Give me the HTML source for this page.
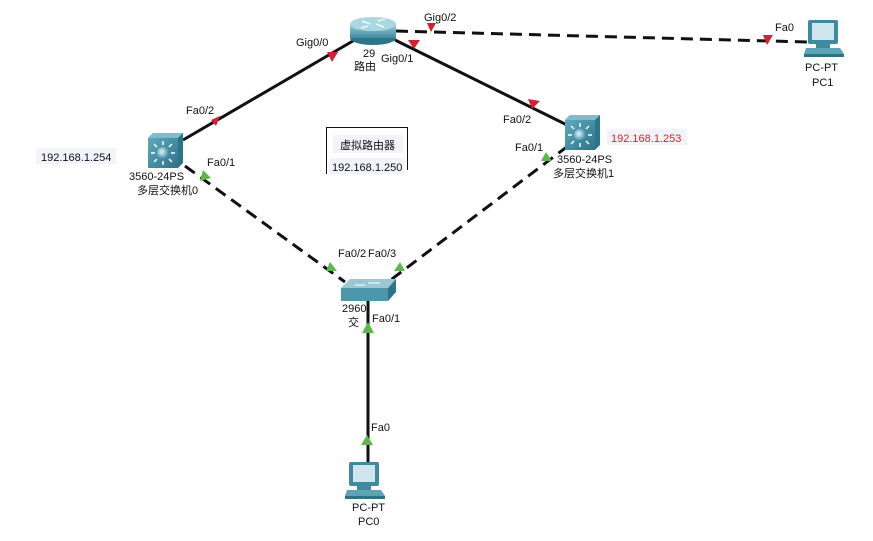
<!DOCTYPE html>
<html><head><meta charset="utf-8"><style>
html,body{margin:0;padding:0;background:#fff;}
svg text{font-family:"Liberation Sans","Noto Sans CJK SC",sans-serif;font-size:11px;fill:#111;}
</style></head><body>
<svg width="873" height="536" viewBox="0 0 873 536" xmlns="http://www.w3.org/2000/svg">
<defs>
<linearGradient id="rt" x1="0" y1="0" x2="0" y2="1"><stop offset="0" stop-color="#9fd0dc"/><stop offset="1" stop-color="#3e8aa0"/></linearGradient>
<linearGradient id="sw" x1="0" y1="0" x2="1" y2="1"><stop offset="0" stop-color="#5fa9bd"/><stop offset="1" stop-color="#2c7589"/></linearGradient>
<radialGradient id="ball" cx="0.4" cy="0.4" r="0.6"><stop offset="0" stop-color="#e8f6fa"/><stop offset="1" stop-color="#3a8ba2"/></radialGradient>
<g id="pc">
<rect x="2" y="0" width="30" height="24" rx="2" fill="#3f8aa0"/>
<rect x="6" y="3" width="22" height="17" fill="#cfe6ee"/>
<rect x="10" y="24" width="14" height="4" fill="#3f8aa0"/>
<polygon points="0,28 34,28 38,34 -2,34" fill="#5da2b5"/>
<rect x="-2" y="34" width="40" height="3" fill="#2f7185"/>
</g>
<g id="ml">
<polygon points="0,5 5,0 35,0 35,30 30,35 0,35" fill="#2c7589"/>
<rect x="0" y="5" width="30" height="30" fill="url(#sw)"/>
<polygon points="0,5 5,0 35,0 30,5" fill="#7fbccc"/>
<circle cx="15" cy="20" r="6" fill="url(#ball)"/>
<g stroke="#fff" stroke-width="1.5">
<line x1="15" y1="12" x2="15" y2="8"/><line x1="15" y1="28" x2="15" y2="32"/>
<line x1="7" y1="20" x2="3" y2="20"/><line x1="23" y1="20" x2="27" y2="20"/>
<line x1="9" y1="14" x2="6" y2="11"/><line x1="21" y1="14" x2="24" y2="11"/>
<line x1="9" y1="26" x2="6" y2="29"/><line x1="21" y1="26" x2="24" y2="29"/>
</g>
</g>
</defs>

<!-- links -->
<g stroke="#111" stroke-width="3" fill="none">
<line x1="358" y1="38" x2="183" y2="140"/>
<line x1="395" y1="40" x2="567" y2="125"/>
<line x1="368" y1="300" x2="368" y2="462"/>
</g>
<g stroke="#111" stroke-width="3" fill="none" stroke-dasharray="12,7">
<line x1="396" y1="31" x2="807" y2="42"/>
<line x1="185" y1="166" x2="345" y2="282"/>
<line x1="568" y1="146" x2="388" y2="282"/>
</g>

<!-- red markers -->
<g fill="#d42030">
<polygon points="327,52 338,52 332,62"/>
<polygon points="211,120 220,116 216,126"/>
<polygon points="427,23 436,23 431,32"/>
<polygon points="408,40 420,40 414,49"/>
<polygon points="528,99 540,101 532,109"/>
<polygon points="763,35 773,35 767,45"/>
</g>
<!-- green markers -->
<g fill="#5bb84a">
<polygon points="203,170 211,178 200,181"/>
<polygon points="330,262 337,271 326,271"/>
<polygon points="400,262 405,271 394,271"/>
<polygon points="546,152 552,161 541,161"/>
<polygon points="368,322 374,333 362,333"/>
<polygon points="367,435 373,445 361,445"/>
</g>

<!-- router -->
<ellipse cx="373" cy="38" rx="23" ry="7" fill="#2c7589"/>
<rect x="350" y="24" width="46" height="14" fill="url(#rt)"/>
<ellipse cx="373" cy="24" rx="23" ry="7" fill="#a9d8e3"/>
<g stroke="#fff" stroke-width="1.3"><line x1="362" y1="21" x2="370" y2="24"/><line x1="376" y1="24" x2="384" y2="27"/><line x1="378" y1="21" x2="385" y2="19"/><line x1="361" y1="28" x2="368" y2="26"/></g>

<!-- multilayer switches -->
<use href="#ml" x="148" y="133"/>
<use href="#ml" x="565" y="115"/>

<!-- 2960 switch -->
<polygon points="341,288 350,279 396,279 388,288" fill="#9cc8d4"/>
<rect x="341" y="288" width="47" height="13" fill="#4d97ab"/>
<polygon points="388,288 396,279 396,292 388,301" fill="#2c7589"/>
<g stroke="#fff" stroke-width="1"><line x1="355" y1="285" x2="365" y2="285"/><line x1="368" y1="283" x2="380" y2="283"/></g>

<!-- PCs -->
<use href="#pc" x="806" y="20"/>
<use href="#pc" x="347" y="462"/>

<!-- virtual router box -->
<path d="M326.5,174 V127.5 H407.5 V170" stroke="#111" fill="none"/>
<rect x="333" y="135" width="70" height="18" fill="#f3f4fb"/>
<text x="340" y="149">虚拟路由器</text>
<rect x="330" y="158" width="75" height="16" fill="#f3f4fb"/>
<text x="332" y="171">192.168.1.250</text>

<!-- IP labels -->
<rect x="36" y="148" width="80" height="16" fill="#f3f4fb"/>
<text x="41" y="161">192.168.1.254</text>
<rect x="607" y="129" width="80" height="16" fill="#f3f4fb"/>
<text x="611" y="142" style="fill:#e0202a">192.168.1.253</text>

<!-- port labels -->
<text x="296" y="46">Gig0/0</text>
<text x="424" y="21">Gig0/2</text>
<text x="381" y="62">Gig0/1</text>
<text x="186" y="114">Fa0/2</text>
<text x="207" y="166">Fa0/1</text>
<text x="503" y="123">Fa0/2</text>
<text x="515" y="151">Fa0/1</text>
<text x="338" y="257">Fa0/2</text>
<text x="368" y="257">Fa0/3</text>
<text x="372" y="322">Fa0/1</text>
<text x="371" y="431">Fa0</text>
<text x="775" y="31">Fa0</text>

<!-- device labels -->
<text x="363" y="57">29</text>
<text x="354" y="70">路由</text>
<text x="129" y="180">3560-24PS</text>
<text x="137" y="194">多层交换机0</text>
<text x="557" y="163">3560-24PS</text>
<text x="553" y="177">多层交换机1</text>
<text x="342" y="312">2960</text>
<text x="348" y="326">交</text>
<text x="805" y="71">PC-PT</text>
<text x="812" y="86">PC1</text>
<text x="352" y="511">PC-PT</text>
<text x="358" y="525">PC0</text>
</svg>
</body></html>
